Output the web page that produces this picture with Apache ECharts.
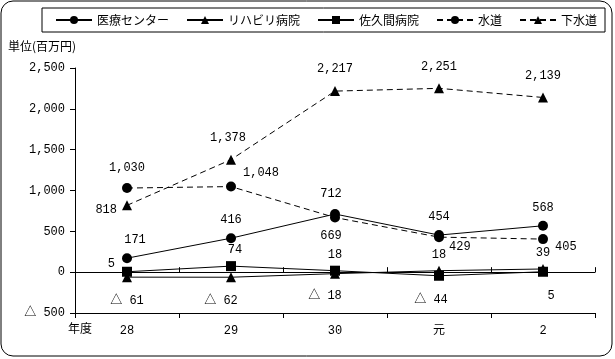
<!DOCTYPE html>
<html><head><meta charset="utf-8">
<script src="https://cdn.jsdelivr.net/npm/echarts@6/dist/echarts.min.js"></script>
<style>html,body{margin:0;padding:0;background:#fff}#c{width:615px;height:359px}</style>
</head><body><div id="c"></div>
<script>
const categories = ['28', '29', '30', '元', '2'];
const iryo = [171, 416, 712, 454, 568];
const rehab = [-61, -62, -18, 18, 39];
const sakuma = [5, 74, 18, -44, 5];
const suido = [1030, 1048, 669, 429, 405];
const gesuido = [818, 1378, 2217, 2251, 2139];
const yTicks = [-500, 0, 500, 1000, 1500, 2000, 2500];

const FONT = '"Liberation Mono", "Noto Sans CJK JP", monospace';
const JFONT = '"Noto Sans CJK JP", sans-serif';
function fmt(v) {
  const s = Math.abs(v).toString().replace(/\B(?=(\d{3})+(?!\d))/g, ',');
  return v < 0 ? '△ ' + s : s;
}
function withLabels(arr, pos) {
  return arr.map((v, i) => ({ value: v, label: { position: pos[i][0], offset: pos[i][1] || [0, 0] } }));
}
const baseLabel = { show: true, color: '#000', fontSize: 12, fontFamily: FONT, formatter: p => fmt(p.value) };

function mkSeries(name, data, symbol, dashed, pos, size) {
  return {
    name, type: 'line', xAxisIndex: 0, data: withLabels(data, pos),
    symbol, symbolSize: size || 10,
    itemStyle: { color: '#000' },
    lineStyle: { color: '#000', width: 1, type: dashed ? [6, 4] : 'solid' },
    label: Object.assign({}, baseLabel),
    animation: false
  };
}

const chart = echarts.init(document.getElementById('c'));
chart.setOption({
  animation: false,
  grid: { left: 75, right: 20, top: 68, bottom: 46 },
  legend: {
    top: 9, left: 50,
    itemWidth: 36, itemHeight: 10, itemGap: 17,
    textStyle: { fontFamily: JFONT, fontSize: 12, color: '#000' },
    data: ['医療センター', 'リハビリ病院', '佐久間病院', '水道', '下水道']
  },
  graphic: [
    { type: 'rect', shape: { x: 1, y: 1, width: 611, height: 355, r: 12 }, style: { fill: 'none', stroke: '#000', lineWidth: 1 }, silent: true },
    { type: 'rect', shape: { x: 42, y: 8, width: 563, height: 24 }, style: { fill: 'none', stroke: '#000', lineWidth: 1 }, silent: true },
    { type: 'text', left: 8, top: 40, style: { text: '単位(百万円)', font: '12px ' + JFONT, fill: '#000' } },
    { type: 'text', left: 68, top: 322, style: { text: '年度', font: '12px ' + JFONT, fill: '#000' } }
  ],
  xAxis: [
    { type: 'category', data: categories, axisLine: { show: false, onZero: false }, axisTick: { show: false },
      axisLabel: { color: '#000', fontSize: 12, fontFamily: FONT, margin: 12 } },
    { type: 'category', data: categories, position: 'bottom', axisLine: { onZero: true, lineStyle: { color: '#000' } },
      axisTick: { show: true, inside: true, length: 5, lineStyle: { color: '#000' } }, axisLabel: { show: false } },
    { type: 'category', data: categories, position: 'bottom', axisLine: { onZero: true, lineStyle: { color: '#000' } },
      axisTick: { show: true, inside: false, length: 5, lineStyle: { color: '#000' } }, axisLabel: { show: false } }
  ],
  yAxis: {
    type: 'value', min: -500, max: 2500, interval: 500,
    axisLine: { show: true, onZero: false, lineStyle: { color: '#000' } },
    axisTick: { show: true, length: 5, lineStyle: { color: '#000' } },
    splitLine: { show: false },
    axisLabel: { color: '#000', fontSize: 12, fontFamily: FONT, margin: 10, formatter: v => fmt(v) }
  },
  series: [
    mkSeries('医療センター', iryo, 'circle', false,
      [['top', [8, -2]], ['top', [0, -2]], ['top', [-4, -4]], ['top', [0, -2]], ['top', [0, -2]]]),
    mkSeries('リハビリ病院', rehab, 'triangle', false,
      [['bottom', [0, 8]], ['bottom', [-10, 8]], ['bottom', [-10, 6]], ['top', [0, 0]], ['top', [0, 0]]]),
    mkSeries('佐久間病院', sakuma, 'rect', false,
      [['left', [-2, -8]], ['top', [4, 0]], ['top', [0, 0]], ['bottom', [-8, 8]], ['bottom', [8, 8]]]),
    mkSeries('水道', suido, 'circle', true,
      [['top', [0, -4]], ['right', [2, -14]], ['bottom', [-4, 2]], ['right', [0, 10]], ['right', [2, 8]]]),
    mkSeries('下水道', gesuido, 'triangle', true,
      [['left', [0, 4]], ['top', [-3, -6]], ['top', [0, -6]], ['top', [0, -6]], ['top', [0, -6]]])
  ]
});
</script></body></html>
